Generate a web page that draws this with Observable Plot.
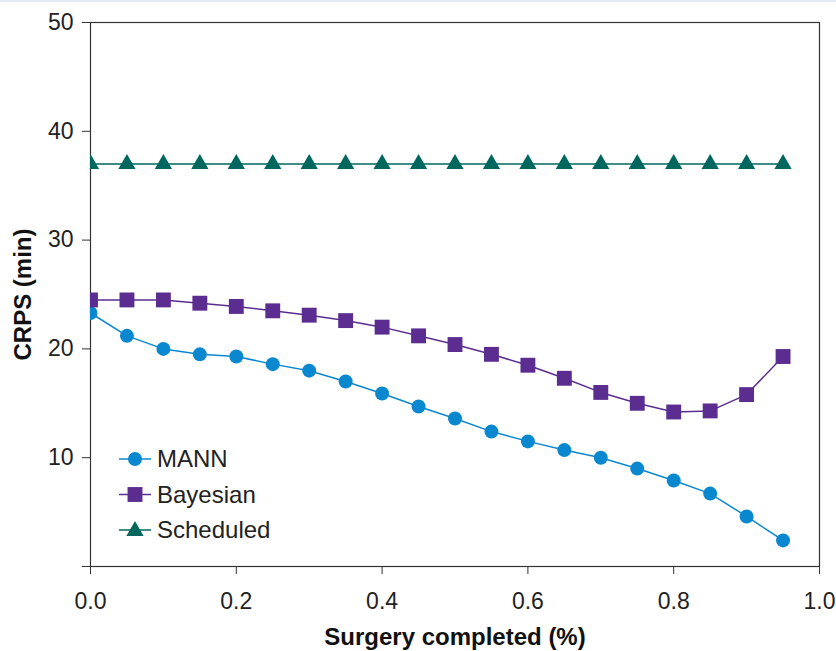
<!DOCTYPE html>
<html>
<head>
<meta charset="utf-8">
<script src="https://cdn.jsdelivr.net/npm/d3@7"></script>
<script src="https://cdn.jsdelivr.net/npm/@observablehq/plot@0.6"></script>
<style>
  html, body { margin: 0; padding: 0; background: #fff; }
  #wrap { position: relative; width: 836px; height: 651px; overflow: hidden; }
  #topline { position: absolute; left: 0; top: 0; width: 836px; height: 2px; background: #e3eaf3; }
  #legend { position: absolute; left: 0; top: 0; pointer-events: none; }
</style>
</head>
<body>
<div id="wrap"><div id="topline"></div></div>
<script>
// ---- data ----
const progress = [0.00, 0.05, 0.10, 0.15, 0.20, 0.25, 0.30, 0.35, 0.40, 0.45,
                  0.50, 0.55, 0.60, 0.65, 0.70, 0.75, 0.80, 0.85, 0.90, 0.95];
const mann      = [23.3, 21.2, 20.0, 19.5, 19.3, 18.6, 18.0, 17.0, 15.9, 14.7,
                   13.6, 12.4, 11.5, 10.7, 10.0, 9.0, 7.9, 6.7, 4.6, 2.4];
const bayesian  = [24.5, 24.5, 24.5, 24.2, 23.9, 23.5, 23.1, 22.6, 22.0, 21.2,
                   20.4, 19.5, 18.5, 17.3, 16.0, 15.0, 14.2, 14.3, 15.8, 19.3];
const scheduled = [37.0, 37.0, 37.0, 37.0, 37.0, 37.0, 37.0, 37.0, 37.0, 37.0,
                   37.0, 37.0, 37.0, 37.0, 37.0, 37.0, 37.0, 37.0, 37.0, 37.0];
const seriesNames = ["MANN", "Bayesian", "Scheduled"];
const xTicks = [0, 0.2, 0.4, 0.6, 0.8, 1.0];
const yTicks = [0, 10, 20, 30, 40, 50];

const colors  = {MANN: "#0a88cf", Bayesian: "#5b2d91", Scheduled: "#00675f"};
const symbols = {MANN: "circle", Bayesian: "square", Scheduled: "triangle"};
const radii   = {MANN: 7, Bayesian: 8.4, Scheduled: 6.4};

const valuesBySeries = {MANN: mann, Bayesian: bayesian, Scheduled: scheduled};
const rows = seriesNames.flatMap(s => progress.map((p, i) => ({series: s, x: p, y: valuesBySeries[s][i]})));

const FONT = "'Liberation Sans', Arial, Helvetica, sans-serif";

const marks = [];
for (const s of seriesNames) {
  const d = rows.filter(r => r.series === s);
  marks.push(Plot.line(d, {x: "x", y: "y", stroke: colors[s], strokeWidth: 1.5}));
  marks.push(Plot.dot(d, {x: "x", y: "y", symbol: () => symbols[s], fill: colors[s], stroke: "none", r: radii[s], clip: true}));
}

const chart = Plot.plot({
  width: 836,
  height: 651,
  marginLeft: 90,
  marginRight: 17,
  marginTop: 22,
  marginBottom: 85,
  style: {fontFamily: FONT, fontSize: "23px", color: "#222", background: "transparent", overflow: "visible"},
  x: {domain: [0, 1], ticks: xTicks, tickFormat: d3.format(".1f"), tickSize: 8, tickPadding: 18,
      label: "Surgery completed (%)", labelAnchor: "center", labelOffset: 78, labelArrow: false},
  y: {domain: [0, 50], ticks: yTicks, tickFormat: d => d === 0 ? "" : String(d), tickSize: 8, tickPadding: 9,
      label: "CRPS (min)", labelAnchor: "center", labelOffset: 77, labelArrow: false},
  marks: [
    Plot.frame({stroke: "#333", strokeWidth: 1.2}),
    ...marks
  ]
});

// style axis titles bold
chart.querySelectorAll('[aria-label="x-axis label"], [aria-label="y-axis label"]').forEach(g => {
  g.setAttribute("font-weight", "bold");
  g.setAttribute("font-size", "24px");
  g.setAttribute("fill", "#111");
});
chart.querySelectorAll('[aria-label="x-axis tick"], [aria-label="y-axis tick"]').forEach(g => {
  g.setAttribute("stroke", "#333");
});

document.getElementById("wrap").appendChild(chart);

// ---- legend overlay ----
const legend = d3.select("#wrap").append("svg")
  .attr("id", "legend").attr("width", 836).attr("height", 651);
const symMap = {circle: d3.symbolCircle, square: d3.symbolSquare, triangle: d3.symbolTriangle};
seriesNames.forEach((s, i) => {
  const cy = 459 + i * 35.5;
  const g = legend.append("g").attr("transform", `translate(0,${cy})`);
  g.append("line").attr("x1", 119).attr("x2", 151).attr("y1", 0).attr("y2", 0)
    .attr("stroke", colors[s]).attr("stroke-width", 1.5);
  g.append("path").attr("transform", `translate(135,${s === "Scheduled" ? 1 : 0})`)
    .attr("d", d3.symbol(symMap[symbols[s]], Math.PI * radii[s] * radii[s])())
    .attr("fill", colors[s]);
  g.append("text").attr("x", 157).attr("y", 0).attr("dy", "0.35em")
    .attr("font-family", FONT).attr("font-size", "24px").attr("fill", "#222")
    .text(s);
});
</script>
</body>
</html>
